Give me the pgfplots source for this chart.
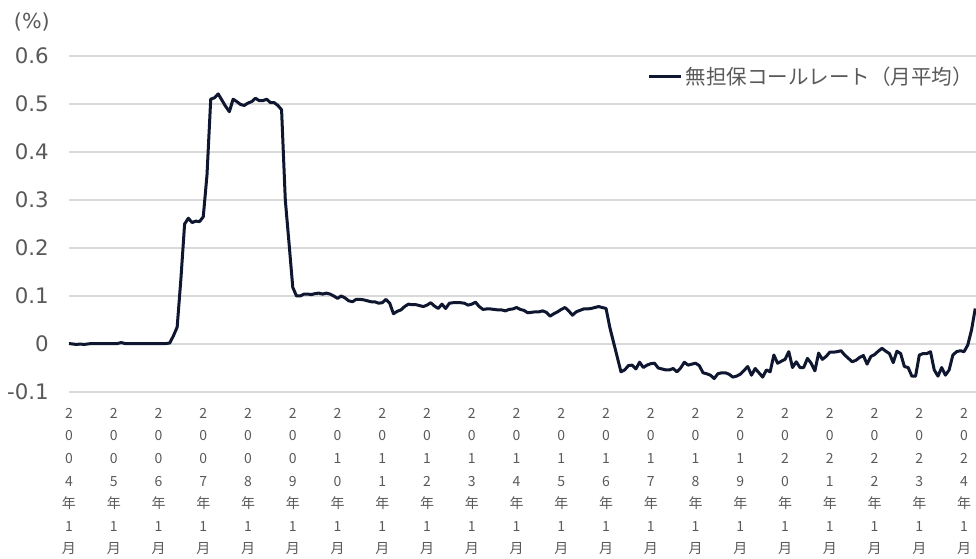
\documentclass[border=0pt]{standalone}
\usepackage{pgfplots}
\pgfplotsset{compat=1.18}
\usepackage{fontspec}
\setmainfont{DejaVu Sans}
\newfontfamily\cjk{Noto Sans CJK JP}
\definecolor{txtgrey}{HTML}{595959}
\definecolor{gridgrey}{HTML}{D9D9D9}
\definecolor{navy}{RGB}{14,22,48}

\begin{document}
\begin{tikzpicture}
\begin{axis}[
    at={(51.75pt,125.25pt)}, anchor=south west,
    scale only axis,
    width=680.25pt, height=252pt,
    xmin=0, xmax=243.2,
    ymin=-0.1, ymax=0.6,
    ytick={-0.1,0,0.1,0.2,0.3,0.4,0.5,0.6},
    yticklabels={-0.1,0,0.1,0.2,0.3,0.4,0.5,0.6},
    xtick={0,12,...,240},
    xticklabels={
        2\\0\\0\\4\\年\\1\\月, 2\\0\\0\\5\\年\\1\\月, 2\\0\\0\\6\\年\\1\\月,
        2\\0\\0\\7\\年\\1\\月, 2\\0\\0\\8\\年\\1\\月, 2\\0\\0\\9\\年\\1\\月,
        2\\0\\1\\0\\年\\1\\月, 2\\0\\1\\1\\年\\1\\月, 2\\0\\1\\2\\年\\1\\月,
        2\\0\\1\\3\\年\\1\\月, 2\\0\\1\\4\\年\\1\\月, 2\\0\\1\\5\\年\\1\\月,
        2\\0\\1\\6\\年\\1\\月, 2\\0\\1\\7\\年\\1\\月, 2\\0\\1\\8\\年\\1\\月,
        2\\0\\1\\9\\年\\1\\月, 2\\0\\2\\0\\年\\1\\月, 2\\0\\2\\1\\年\\1\\月,
        2\\0\\2\\2\\年\\1\\月, 2\\0\\2\\3\\年\\1\\月, 2\\0\\2\\4\\年\\1\\月},
    xticklabel style={anchor=north, align=center, inner sep=0pt, yshift=-12pt,
        font=\cjk\fontsize{10.5}{16.9}\selectfont, text=txtgrey},
    yticklabel style={anchor=east, inner sep=0pt, xshift=-15pt,
        font=\fontsize{16}{16}\selectfont, text=txtgrey},
    major tick length=0pt,
    axis line style={draw=none},
    ymajorgrids,
    major grid style={gridgrey, line width=0.9pt},
    legend style={at={(1.0,0.939)}, anchor=east, draw=none, fill=none,
        inner sep=0pt, font=\cjk\fontsize{15.4}{15.4}\selectfont, text=txtgrey,
        /tikz/every even column/.append style={column sep=0pt}},
    legend cell align=left,
    legend image code/.code={\draw[navy, line width=2.4pt] (0pt,0pt) -- (24pt,0pt);},
]
\addplot[navy, line width=2.25pt, line join=round] coordinates {
(0,0.001)(1,0.000)(2,-0.001)(3,0.000)(4,-0.001)(5,0.000)(6,0.001)(7,0.001)(8,0.001)(9,0.001)(10,0.001)(11,0.001)
(12,0.001)(13,0.001)(14,0.003)(15,0.001)(16,0.001)(17,0.001)(18,0.001)(19,0.001)(20,0.001)(21,0.001)(22,0.001)(23,0.001)
(24,0.001)(25,0.001)(26,0.001)(27,0.002)(28,0.017)(29,0.035)(30,0.135)(31,0.250)(32,0.262)(33,0.253)(34,0.256)(35,0.255)
(36,0.265)(37,0.352)(38,0.510)(39,0.513)(40,0.521)(41,0.508)(42,0.495)(43,0.484)(44,0.510)(45,0.505)(46,0.499)(47,0.497)
(48,0.502)(49,0.505)(50,0.512)(51,0.507)(52,0.507)(53,0.510)(54,0.503)(55,0.503)(56,0.497)(57,0.488)(58,0.300)(59,0.210)
(60,0.118)(61,0.100)(62,0.100)(63,0.104)(64,0.104)(65,0.103)(66,0.105)(67,0.106)(68,0.104)(69,0.106)(70,0.104)(71,0.100)
(72,0.095)(73,0.100)(74,0.096)(75,0.090)(76,0.088)(77,0.093)(78,0.093)(79,0.092)(80,0.090)(81,0.088)(82,0.088)(83,0.085)
(84,0.086)(85,0.093)(86,0.085)(87,0.063)(88,0.068)(89,0.071)(90,0.078)(91,0.083)(92,0.082)(93,0.082)(94,0.080)(95,0.078)
(96,0.081)(97,0.086)(98,0.079)(99,0.074)(100,0.083)(101,0.074)(102,0.085)(103,0.086)(104,0.086)(105,0.086)(106,0.085)(107,0.081)
(108,0.083)(109,0.087)(110,0.078)(111,0.072)(112,0.073)(113,0.073)(114,0.072)(115,0.071)(116,0.071)(117,0.069)(118,0.072)(119,0.073)
(120,0.076)(121,0.072)(122,0.070)(123,0.065)(124,0.066)(125,0.067)(126,0.067)(127,0.069)(128,0.066)(129,0.058)(130,0.063)(131,0.067)
(132,0.072)(133,0.076)(134,0.069)(135,0.060)(136,0.067)(137,0.070)(138,0.073)(139,0.073)(140,0.074)(141,0.076)(142,0.078)(143,0.076)
(144,0.074)(145,0.035)(146,0.004)(147,-0.027)(148,-0.058)(149,-0.054)(150,-0.045)(151,-0.044)(152,-0.052)(153,-0.038)(154,-0.049)(155,-0.044)
(156,-0.041)(157,-0.040)(158,-0.050)(159,-0.052)(160,-0.054)(161,-0.054)(162,-0.051)(163,-0.058)(164,-0.050)(165,-0.038)(166,-0.044)(167,-0.042)
(168,-0.040)(169,-0.045)(170,-0.060)(171,-0.062)(172,-0.065)(173,-0.072)(174,-0.062)(175,-0.060)(176,-0.060)(177,-0.063)(178,-0.069)(179,-0.067)
(180,-0.063)(181,-0.055)(182,-0.047)(183,-0.065)(184,-0.051)(185,-0.060)(186,-0.069)(187,-0.054)(188,-0.058)(189,-0.023)(190,-0.040)(191,-0.036)
(192,-0.032)(193,-0.016)(194,-0.049)(195,-0.037)(196,-0.049)(197,-0.049)(198,-0.030)(199,-0.040)(200,-0.056)(201,-0.019)(202,-0.032)(203,-0.026)
(204,-0.017)(205,-0.017)(206,-0.016)(207,-0.014)(208,-0.023)(209,-0.030)(210,-0.037)(211,-0.034)(212,-0.028)(213,-0.024)(214,-0.042)(215,-0.026)
(216,-0.022)(217,-0.015)(218,-0.009)(219,-0.015)(220,-0.020)(221,-0.039)(222,-0.015)(223,-0.020)(224,-0.047)(225,-0.049)(226,-0.067)(227,-0.067)
(228,-0.023)(229,-0.020)(230,-0.020)(231,-0.016)(232,-0.054)(233,-0.067)(234,-0.049)(235,-0.065)(236,-0.054)(237,-0.023)(238,-0.016)(239,-0.014)
(240,-0.016)(241,-0.002)(242,0.029)(243,0.074)
};
\addlegendentry{無担保コールレート（月平均）}
\end{axis}
\node[anchor=east, inner sep=0pt, text=txtgrey, font=\fontsize{15.5}{15.5}\selectfont]
    at (37.5pt,402.75pt) {(\%)};
\pgfresetboundingbox
\useasboundingbox (0,0) rectangle (732pt,419.25pt);
\end{tikzpicture}
\end{document}
